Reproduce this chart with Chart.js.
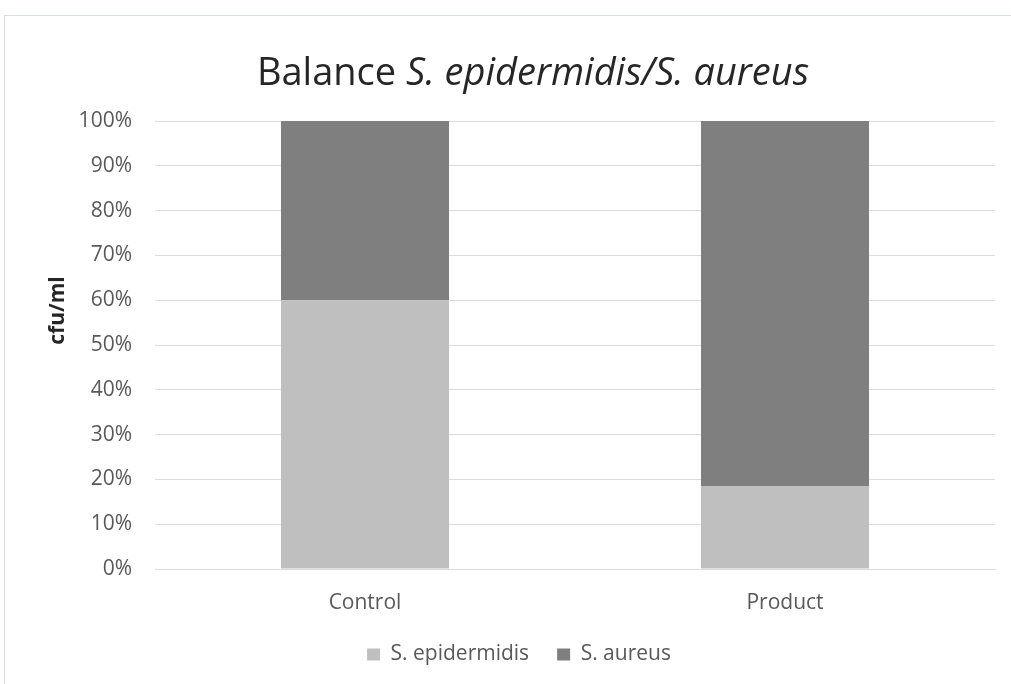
<!DOCTYPE html>
<html>
<head>
<meta charset="utf-8">
<script src="https://cdn.jsdelivr.net/npm/chart.js@4/dist/chart.umd.min.js"></script>
<style>
  body { margin: 0; background: #fff; }
  #wrap { position: relative; width: 1011px; height: 684px; overflow: hidden; }
  #frame { position: absolute; left: 4px; top: 15px; width: 1100px; height: 800px; border: 1px solid #d9dde5; }
  #title { position: absolute; left: 0; top: 51px; width: 1066px; text-align: center;
           font: 38px/38px "Open Sans", sans-serif; color: #262626; }
  canvas { position: absolute; left: 0; top: 0; }
</style>
</head>
<body>
<div id="wrap">
  <div id="frame"></div>
  <canvas id="chart" width="1011" height="684"></canvas>
  <div id="title">Balance <i>S. epidermidis/S. aureus</i></div>
</div>
<script>
const categories = ['Control', 'Product'];
const epidermidis = [60, 18.5];
const aureus = [40, 81.5];
const yTicks = [0, 10, 20, 30, 40, 50, 60, 70, 80, 90, 100];
const yAxisTitle = 'cfu/ml';

const fontFamily = '"Open Sans", sans-serif';

// axis title drawn by hand so it sits where the original puts it
const yTitlePlugin = {
    id: 'yTitle',
    afterDraw(chart) {
        const ctx = chart.ctx;
        const area = chart.chartArea;
        ctx.save();
        ctx.translate(58, area.top + (area.bottom - area.top) * 0.423);
        ctx.rotate(-Math.PI / 2);
        ctx.font = 'bold 21px ' + fontFamily;
        ctx.fillStyle = '#262626';
        ctx.textAlign = 'center';
        ctx.textBaseline = 'middle';
        ctx.fillText(yAxisTitle, 0, 0);
        ctx.restore();
    }
};

const ctx = document.getElementById('chart').getContext('2d');
new Chart(ctx, {
    type: 'bar',
    data: {
        labels: categories,
        datasets: [{
            label: 'S. epidermidis',
            data: epidermidis,
            backgroundColor: '#bfbfbf',
            categoryPercentage: 1,
            barPercentage: 0.4
        }, {
            label: 'S. aureus',
            data: aureus,
            backgroundColor: '#7f7f7f',
            categoryPercentage: 1,
            barPercentage: 0.4
        }]
    },
    options: {
        responsive: false,
        animation: false,
        layout: { padding: { left: 43, right: 16, top: 121, bottom: 9 } },
        plugins: {
            title: { display: false },
            tooltip: { enabled: false },
            legend: {
                position: 'bottom',
                labels: {
                    boxWidth: 13,
                    boxHeight: 12,
                    padding: 28,
                    color: '#595959',
                    font: { family: fontFamily, size: 21 }
                }
            }
        },
        scales: {
            x: {
                stacked: true,
                afterFit: scale => { scale.height = 47; },
                grid: { display: false },
                border: { color: '#d9dce3' },
                ticks: { color: '#595959', padding: 13, font: { family: fontFamily, size: 21 } }
            },
            y: {
                stacked: true,
                min: 0,
                max: 100,
                afterFit: scale => { scale.width = 112; },
                afterBuildTicks: scale => { scale.ticks = yTicks.map(v => ({ value: v })); },
                grid: { color: '#d9dce3', drawTicks: false },
                border: { display: false },
                ticks: {
                    color: '#595959',
                    padding: 23,
                    font: { family: fontFamily, size: 21 },
                    callback: v => v + '%'
                }
            }
        }
    },
    plugins: [yTitlePlugin]
});
</script>
</body>
</html>
